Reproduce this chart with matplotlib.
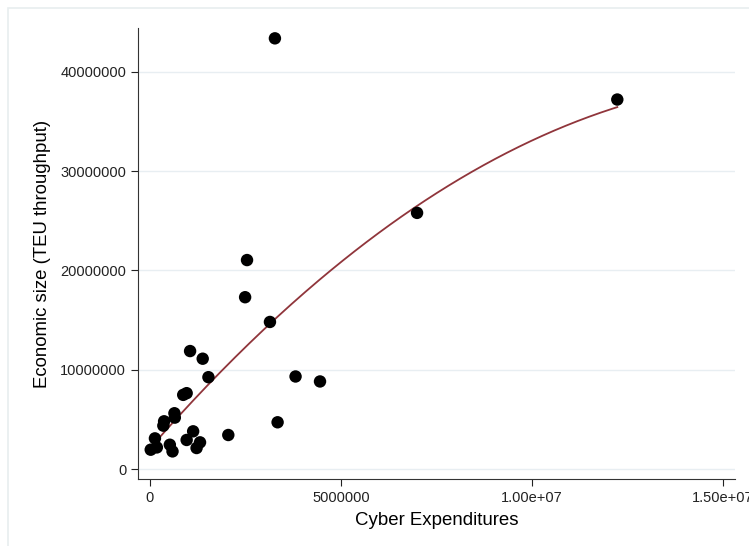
import numpy as np
import matplotlib
matplotlib.use('Agg')
from matplotlib import pyplot as plt
from matplotlib.patches import Rectangle

# cyber expenditures vs TEU throughput
cyber = np.array([3.27, 12.23, 6.99, 2.54, 2.49, 3.14, 1.05, 1.38, 1.53, 3.81,
                  4.45, 0.87, 0.96, 0.64, 0.65, 0.37, 0.35, 3.34, 2.05, 1.13,
                  0.96, 1.31, 1.22, 0.52, 0.59, 0.13, 0.02, 0.18]) * 1e6
teu = np.array([43.36, 37.20, 25.79, 21.04, 17.30, 14.81, 11.88, 11.11, 9.25, 9.32,
                8.82, 7.47, 7.64, 5.62, 5.18, 4.81, 4.37, 4.71, 3.43, 3.80,
                2.93, 2.69, 2.12, 2.45, 1.78, 3.09, 1.95, 2.18]) * 1e6

xticks = [0, 5000000, 10000000, 15000000]
xtick_labels = ['0', '5000000', '1.00e+07', '1.50e+07']
yticks = [0, 10000000, 20000000, 30000000, 40000000]
ytick_labels = ['0', '10000000', '20000000', '30000000', '40000000']

plt.rcParams['font.family'] = ['Liberation Sans', 'DejaVu Sans']

fig = plt.figure(figsize=(7.49, 5.46), dpi=100)
ax = fig.add_axes([0.1842, 0.1227, 0.9813 - 0.1842, 0.9487 - 0.1227])

# faint frame around the graph region
fig.patches.append(Rectangle((8 / 749, -0.01), 1.02, 1.0 - 8 / 546 + 0.01,
                             transform=fig.transFigure, fill=False,
                             edgecolor='#e8eeef', linewidth=1.2))

# quadratic fit like stata's qfit
coef = np.polyfit(cyber, teu, 2)
xs = np.linspace(cyber.min(), cyber.max(), 200)
ax.plot(xs, np.polyval(coef, xs), color='#90353b', linewidth=1.3, zorder=2)

ax.scatter(cyber, teu, s=80, color='black', edgecolors='none', zorder=3)

ax.set_xlim(-0.314e6, 15.31e6)
ax.set_ylim(-1.0e6, 44.4e6)
ax.set_xticks(xticks)
ax.set_xticklabels(xtick_labels)
ax.set_yticks(yticks)
ax.set_yticklabels(ytick_labels)
ax.tick_params(axis='both', labelsize=10.5, length=5, width=0.8, colors='#222222')
ax.yaxis.grid(True, color='#e8eef2', linewidth=1)
ax.set_axisbelow(True)

for s in ['top', 'right']:
    ax.spines[s].set_visible(False)
for s in ['left', 'bottom']:
    ax.spines[s].set_linewidth(0.8)
    ax.spines[s].set_color('#333333')

ax.set_xlabel('Cyber Expenditures', fontsize=13.4, labelpad=5)
ax.set_ylabel('Economic size (TEU throughput)', fontsize=13.4, labelpad=6.5)

plt.savefig('out.png', dpi=100)
